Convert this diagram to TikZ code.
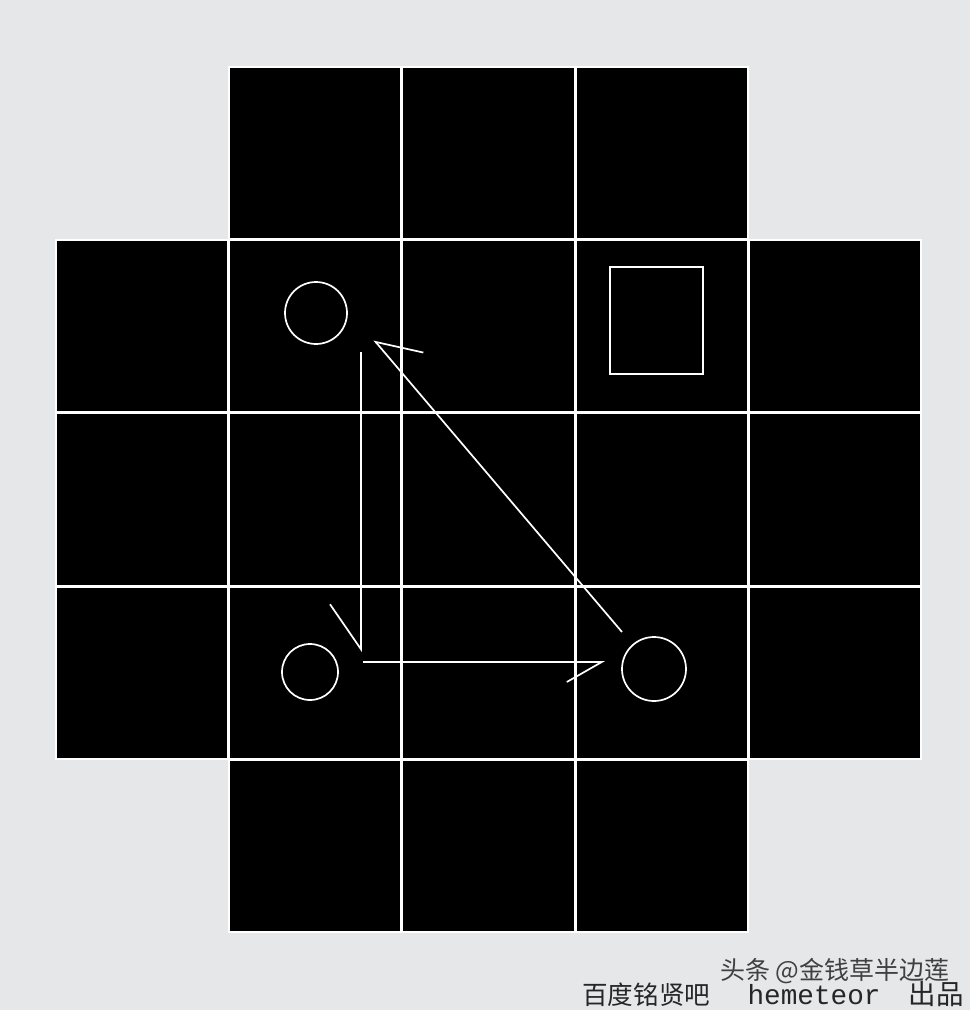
\documentclass[tikz,border=0pt]{standalone}
\usepackage{fontspec}
\newfontfamily\cjkfont{Noto Sans CJK SC}
\newfontfamily\typefont{Liberation Mono}
\usepackage{tikz}
\usetikzlibrary{arrows.meta, positioning, matrix}
\definecolor{paper}{HTML}{E6E7E9}

\begin{document}
\begin{tikzpicture}[x=1pt, y=-1pt,
    ring/.style={draw=white, circle, line width=1.7pt, inner sep=0pt},
    conn/.style={draw=white, line width=1.7pt}]
    \fill[paper] (0,0) rectangle (970,1010);
    \useasboundingbox (0,0) rectangle (970,1010);
    \matrix (board) at (488.5,499.5) [matrix of nodes,
      nodes={draw=white, fill=black, line width=1.6pt, minimum size=171.8pt, outer sep=0pt, inner sep=0pt, anchor=center},
      row sep=0pt,
      column sep=0pt,
      ampersand replacement=\&
      ] {
        \& ~ \& ~ \& ~ \& \\
      ~ \& ~ \& ~ \& ~ \& ~ \\
      ~ \& ~ \& ~ \& ~ \& ~ \\
      ~ \& ~ \& ~ \& ~ \& ~ \\
        \& ~ \& ~ \& ~ \& \\
    };
    % pieces
    \node[ring, minimum size=62pt] (pieceA) at (316,313) {};
    \node[ring, minimum size=56pt] (pieceB) at (310,672) {};
    \node[ring, minimum size=64pt] (pieceC) at (654,669) {};
    \node[draw=white, line width=1.7pt, minimum width=93pt, minimum height=107pt, inner sep=0pt] (target) at (656.5,320.5) {};
    % moves
    \coordinate (downS) at (361,352);
    \coordinate (downE) at (361,652);
    \coordinate (rightS) at (363,662);
    \coordinate (rightE) at (605,662);
    \coordinate (backS) at (622,632);
    \coordinate (backE) at (374,340);
    \draw[conn, -{Straight Barb[harpoon, swap, length=45pt, width=62pt]}] (downS) -- (downE);
    \draw[conn, -{Straight Barb[harpoon, swap, length=35pt, width=40pt]}] (rightS) -- (rightE);
    \draw[conn, -{Straight Barb[harpoon, swap, length=39pt, width=59pt]}] (backS) -- (backE);
    % credits
    \node[font=\cjkfont\fontsize{25.6}{26}\selectfont, text=black!85, anchor=base west, inner sep=0pt] (site) at (582,1004) {百度铭贤吧};
    \node[font=\typefont\fontsize{27.7}{28}\selectfont, text=black!85, inner sep=0pt, right=37pt of site.base east, anchor=base west] (author) {hemeteor};
    \node[font=\cjkfont\fontsize{27.5}{28}\selectfont, text=black!85, inner sep=0pt, right=28pt of author.base east, anchor=base west] (made) {出品};
    \node[font=\cjkfont\fontsize{25}{25}\selectfont, text=black!75, anchor=west, inner sep=0pt] (mark) at (720,971) {头条 @金钱草半边莲};
\end{tikzpicture}
\end{document}
